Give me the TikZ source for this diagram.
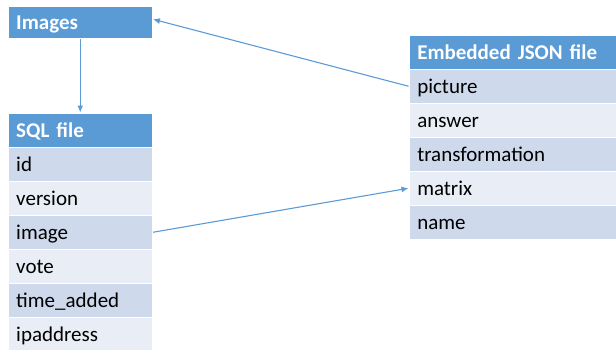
\documentclass[tikz,border=0pt]{standalone}
\usepackage{fontspec}
\setmainfont{Carlito}
\usetikzlibrary{arrows.meta}
\definecolor{hdr}{HTML}{5B9BD5}
\definecolor{rowdark}{HTML}{CFD9EC}
\definecolor{rowlight}{HTML}{E9EEF6}
\definecolor{arrowc}{HTML}{5B9BD5}
\tikzset{
  cell/.style={rectangle, anchor=north west, draw=white, line width=1.5pt,
    minimum height=34pt, inner xsep=8pt, inner ysep=0pt,
    text height=19.5pt, text depth=4.5pt, align=left,
    font=\fontsize{21}{25}\selectfont},
  sqlw/.style={text width=128pt},
  jsonw/.style={text width=191pt},
  hcell/.style={cell, fill=hdr, text=white, font=\fontsize{21}{25}\selectfont\bfseries},
  dcell/.style={cell, fill=rowdark, text=black},
  lcell/.style={cell, fill=rowlight, text=black},
  arr/.style={draw=arrowc, line width=1.1pt, -{Latex[length=7pt,width=6pt]}}
}
\begin{document}
\begin{tikzpicture}[x=1pt,y=-1pt]
\useasboundingbox (0,0) rectangle (616,349);
% Images
\node[hcell, sqlw, minimum height=32pt] (images) at (7.5,5.5) {Images};
% SQL file
\node[hcell, sqlw] (sql) at (7.5,112.5) {SQL file};
\node[dcell, sqlw] (id) at (7.5,146.5) {id};
\node[lcell, sqlw] (version) at (7.5,180.5) {version};
\node[dcell, sqlw] (image) at (7.5,214.5) {image};
\node[lcell, sqlw] (vote) at (7.5,248.5) {vote};
\node[dcell, sqlw] (timeadded) at (7.5,282.5) {time\_added};
\node[lcell, sqlw] (ipaddress) at (7.5,316.5) {ipaddress};
% JSON
\node[hcell, jsonw] (json) at (408.5,34.5) {Embedded JSON file};
\node[dcell, jsonw] (picture) at (408.5,68.5) {picture};
\node[lcell, jsonw] (answer) at (408.5,102.5) {answer};
\node[dcell, jsonw] (transformation) at (408.5,136.5) {transformation};
\node[lcell, jsonw] (matrix) at (408.5,170.5) {matrix};
\node[dcell, jsonw] (name) at (408.5,204.5) {name};
% connectors
\draw[arr] (images.south) -- (sql.north);
\draw[arr] (picture.west) -- ([yshift=3pt]images.east);
\draw[arr] (image.east) -- (matrix.west);
\end{tikzpicture}
\end{document}
